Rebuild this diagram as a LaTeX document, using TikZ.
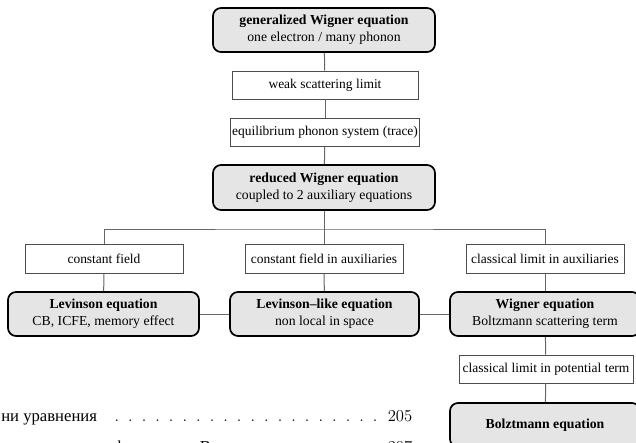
\documentclass[tikz,border=0pt]{standalone}
\usepackage{fontspec}
\newfontfamily\tms[Ligatures=TeX]{Liberation Serif}
\newfontfamily\cyr[Ligatures=TeX]{Liberation Serif}
\begin{document}
\begin{tikzpicture}[x=0.75pt,y=-0.75pt,
  bigbox/.style={draw=black, line width=1.3pt, rounded corners=6pt, fill=black!10,
    align=center, inner sep=2pt, font=\tms\fontsize{10.3}{12.5}\selectfont},
  smallbox/.style={draw=black!70, line width=0.6pt, fill=white, align=center,
    inner sep=1pt, font=\tms\fontsize{10.1}{12}\selectfont},
  conn/.style={draw=black!60, line width=0.75pt}]
\clip (0,0) rectangle (636,443);
% main column
\node[bigbox, minimum width=166.5pt, minimum height=33pt] (gw) at (324,30)
  {\textbf{generalized Wigner equation}\\one electron / many phonon};
\node[smallbox, minimum width=139.5pt, minimum height=21pt] (ws) at (325,85)
  {weak scattering limit};
\node[smallbox, minimum width=139.5pt, minimum height=21pt] (eq) at (325,132)
  {equilibrium phonon system (trace)};
\node[bigbox, minimum width=166.5pt, minimum height=33.75pt] (rw) at (324,187.5)
  {\textbf{reduced Wigner equation}\\coupled to 2 auxiliary equations};
\coordinate (hl) at (324,229);
% second row
\node[smallbox, minimum width=118.5pt, minimum height=21.75pt] (c1) at (104,258.5)
  {constant field};
\node[smallbox, minimum width=118.5pt, minimum height=21.75pt] (c2) at (324,258.5)
  {constant field in auxiliaries};
\node[smallbox, minimum width=118.5pt, minimum height=21.75pt] (c3) at (545,258.5)
  {classical limit in auxiliaries};
% third row
\node[bigbox, minimum width=143.25pt, minimum height=33pt] (lv) at (103.5,314)
  {\textbf{Levinson equation}\\CB, ICFE, memory effect};
\node[bigbox, minimum width=141.75pt, minimum height=33pt] (ll) at (324.5,314)
  {\textbf{Levinson\textendash like equation}\\non local in space};
\node[bigbox, minimum width=142.5pt, minimum height=33pt] (wg) at (545,314)
  {\textbf{Wigner equation}\\Boltzmann scattering term};
\node[smallbox, minimum width=130.5pt, minimum height=21pt] (cp) at (546,369)
  {classical limit in potential term};
\node[bigbox, minimum width=142.5pt, minimum height=33pt] (bz) at (545,425)
  {\textbf{Bolztmann equation}};
% connectors
\draw[conn] (gw) -- (ws);
\draw[conn] (ws) -- (eq);
\draw[conn] (eq) -- (rw);
\draw[conn] (rw) -- (hl);
\draw[conn] (c1.north) |- (hl) -| (c3.north);
\draw[conn] (hl) -- (c2.north);
\draw[conn] (c1) -- (lv);
\draw[conn] (c2) -- (ll);
\draw[conn] (c3) -- (wg);
\draw[conn] (lv) -- (ll);
\draw[conn] (ll) -- (wg);
\draw[conn] (wg) -- (cp);
\draw[conn] (cp) -- (bz);
% partial table of contents lines
\node[anchor=base west, inner sep=0pt, font=\fontsize{12.5}{15}\selectfont] (toc1) at (1,421)
  {\hbox to 308.25pt{{\cyr ни уравнения}\hskip 8pt\leaders\hbox to 10.2pt{\hss.\hss}\hfill\ 205}};
\node[anchor=base west, inner sep=0pt, font=\fontsize{12.5}{15}\selectfont] (toc2) at (1,452)
  {\hbox to 308.25pt{{\cyr ве за вълновата функция на Вигнер}\hskip 8pt\leaders\hbox to 10.2pt{\hss.\hss}\hfill\ 207}};
\end{tikzpicture}
\end{document}
